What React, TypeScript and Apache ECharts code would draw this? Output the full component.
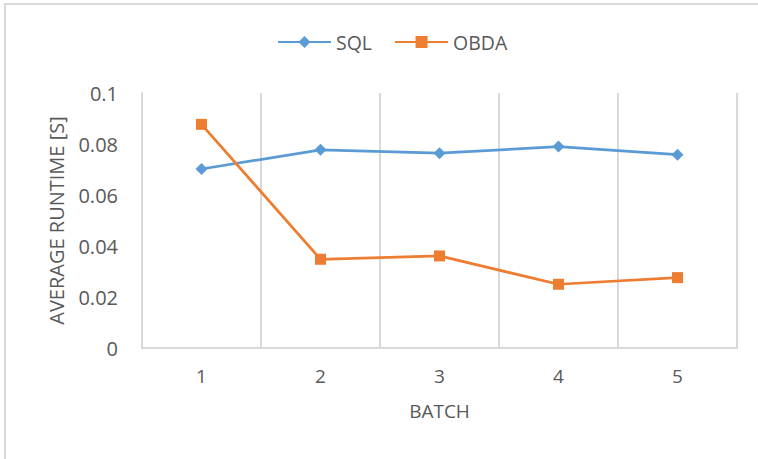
import React, { useEffect, useRef } from "react";
import * as echarts from "echarts";

const categories = ["1", "2", "3", "4", "5"];
const sqlValues = [0.0702, 0.0777, 0.0764, 0.079, 0.0758];
const obdaValues = [0.0877, 0.0348, 0.0361, 0.025, 0.0276];
const yTickMin = 0;
const yTickMax = 0.1;
const yTickInterval = 0.02;

const FONT = "Open Sans";
const TEXT = "#595959";
const GRID = "#d9d9d9";

export default function App() {
  const ref = useRef<HTMLDivElement>(null);
  useEffect(() => {
    if (!ref.current) return;
    const chart = echarts.init(ref.current, undefined, { renderer: "svg" });
    chart.setOption({
      animation: false,
      backgroundColor: "#ffffff",
      textStyle: { fontFamily: FONT },
      graphic: [
        {
          type: "rect",
          shape: { x: 5, y: 4, width: 800, height: 500 },
          style: { fill: "none", stroke: GRID, lineWidth: 2 },
          silent: true,
        },
      ],
      legend: {
        left: 272,
        top: 27,
        itemWidth: 53,
        itemHeight: 15,
        itemGap: 22,
        textStyle: { fontFamily: FONT, fontSize: 19.5, color: TEXT },
        data: ["SQL", "OBDA"],
      },
      grid: { left: 142, right: 21, top: 93, bottom: 111, containLabel: false },
      xAxis: {
        type: "category",
        data: categories,
        boundaryGap: true,
        name: "BATCH",
        nameLocation: "middle",
        nameGap: 53,
        nameTextStyle: { fontFamily: FONT, fontSize: 19, color: TEXT },
        axisLine: { show: true, lineStyle: { color: GRID, width: 2 } },
        axisTick: { show: false },
        axisLabel: { margin: 18, fontFamily: FONT, fontSize: 19, color: TEXT },
        splitLine: { show: true, lineStyle: { color: GRID, width: 2 } },
      },
      yAxis: {
        type: "value",
        min: yTickMin,
        max: yTickMax,
        interval: yTickInterval,
        name: "AVERAGE RUNTIME [S]",
        nameLocation: "middle",
        nameGap: 76,
        nameTextStyle: { fontFamily: FONT, fontSize: 20, color: TEXT },
        axisLine: { show: true, lineStyle: { color: GRID, width: 2 } },
        axisTick: { show: false },
        axisLabel: { margin: 24, fontFamily: FONT, fontSize: 20, color: TEXT },
        splitLine: { show: false },
      },
      series: [
        {
          name: "SQL",
          type: "line",
          data: sqlValues,
          color: "#5b9bd5",
          symbol: "diamond",
          symbolSize: 12,
          lineStyle: { width: 2.75, color: "#5b9bd5" },
          itemStyle: { color: "#5b9bd5" },
        },
        {
          name: "OBDA",
          type: "line",
          data: obdaValues,
          color: "#ed7d31",
          symbol: "rect",
          symbolSize: 11,
          lineStyle: { width: 2.75, color: "#ed7d31" },
          itemStyle: { color: "#ed7d31" },
        },
      ],
    });
    return () => chart.dispose();
  }, []);
  return (
    <div
      ref={ref}
      style={{ position: "absolute", left: 0, top: 0, width: 758, height: 459 }}
    />
  );
}
